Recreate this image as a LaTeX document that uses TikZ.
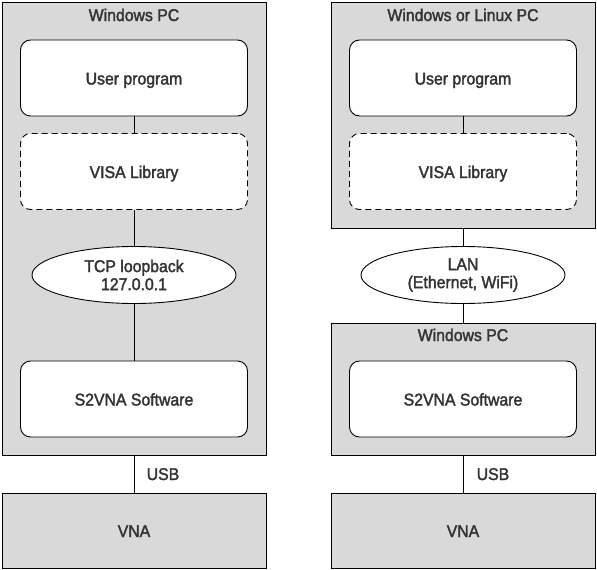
\documentclass[tikz,border=0pt]{standalone}
\usepackage{fontspec}
\setmainfont{Liberation Sans}[FakeStretch=0.93,FakeBold=2]
\usetikzlibrary{shapes.geometric}
\definecolor{boxgray}{HTML}{D9D9D9}
\definecolor{txtgray}{HTML}{333333}

\begin{document}
\begin{tikzpicture}[x=1pt,y=-1pt,font=\fontsize{17}{18}\selectfont,
	host/.style={draw,fill=boxgray,line width=0.9pt,inner sep=0,minimum width=264},
	soft/.style={draw,fill=white,rounded corners=10,line width=0.9pt,inner sep=0,minimum width=227,minimum height=76,text=txtgray,text height=13,text depth=0},
	lib/.style={soft,dash pattern=on 6pt off 4pt},
	link/.style={ellipse,draw,fill=white,line width=0.9pt,inner sep=0,minimum width=204,minimum height=57,align=center,text=txtgray},
	title/.style={text=txtgray,text height=12,text depth=0}]
	\newcommand{\colL}{134}
	\newcommand{\colR}{463}
	\useasboundingbox (0,0) rectangle (597,570);
	% left: everything on one Windows PC
	\node[host,minimum height=453] (lpc) at (\colL,228.5) {};
	\node[title] (lpctitle) at (\colL,15) {Windows PC};
	\node[soft] (lup) at (\colL,78) {User program};
	\node[lib] (lvisa) at (\colL,171.5) {VISA Library};
	\node[link] (lloop) at (\colL,275) {TCP loopback\\127.0.0.1};
	\node[soft] (lsw) at (\colL,399) {S2VNA Software};
	\node[host,minimum height=75,text=txtgray,text height=13,text depth=0] (lvna) at (\colL,530.5) {VNA};
	\draw[line width=0.9pt] (lup) -- (lvisa); %program-VISA
	\draw[line width=0.9pt] (lvisa) -- (lloop);
	\draw[line width=0.9pt] (lloop) -- (lsw);
	\draw[line width=0.9pt] (lpc) -- (lvna); %USB
	\node[title] (lusb) at (163,474) {USB};
	% right: client PC over LAN
	\node[host,minimum height=226] (rpc) at (\colR,115) {};
	\node[title] (rpctitle) at (\colR,15) {Windows or Linux PC};
	\node[soft] (rup) at (\colR,78) {User program};
	\node[lib] (rvisa) at (\colR,171.5) {VISA Library};
	\node[link] (rlan) at (\colR,275) {LAN\\(Ethernet, WiFi)};
	\node[host,minimum height=132] (rsrv) at (\colR,389) {};
	\node[title] (rsrvtitle) at (\colR,335) {Windows PC};
	\node[soft] (rsw) at (\colR,399) {S2VNA Software};
	\node[host,minimum height=75,text=txtgray,text height=13,text depth=0] (rvna) at (\colR,530.5) {VNA};
	\draw[line width=0.9pt] (rup) -- (rvisa);
	\draw[line width=0.9pt] (rpc) -- (rlan); %LAN
	\draw[line width=0.9pt] (rlan) -- (rsrv);
	\draw[line width=0.9pt] (rsrv) -- (rvna); %USB
	\node[title] (rusb) at (493,474) {USB};
\end{tikzpicture}
\end{document}
